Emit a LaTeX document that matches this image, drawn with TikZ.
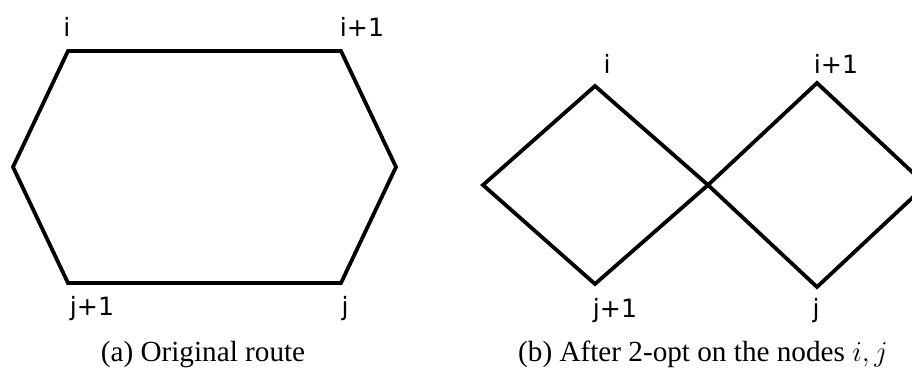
\documentclass[tikz,border=0pt]{standalone}
\usepackage{fontspec}
\setmainfont{Liberation Serif}
\newfontfamily\lblfont{DejaVu Sans}
\begin{document}
\begin{tikzpicture}[x=0.5pt,y=-0.5pt,
  route/.style={line width=1.9pt,line join=miter},
  lbl/.style={font=\lblfont\fontsize{12.6}{14}\selectfont,anchor=base,inner sep=0pt},
  captext/.style={font=\fontsize{14.6}{16}\selectfont,anchor=base,inner sep=0pt}]
\useasboundingbox (0,0) rectangle (912,370);
% (a)
\coordinate (ai) at (68,51);
\coordinate (ai1) at (341,51);
\coordinate (ar) at (396,167);
\coordinate (aj) at (341,283);
\coordinate (aj1) at (68,283);
\coordinate (al) at (13,167);
\draw[route] (ai) -- (ai1) -- (ar) -- (aj) -- (aj1) -- (al) -- cycle;
\node[lbl] (lai) at (67,36) {i};
\node[lbl] (lai1) at (362,36) {i+1};
\node[lbl] (laj1) at (92,315) {j+1};
\node[lbl] (laj) at (345,315) {j};
\node[captext] (capa) at (203,361) {(a) Original route};
% (b)
\coordinate (bi) at (595,86);
\coordinate (bl) at (483,185);
\coordinate (bj1) at (595,284);
\coordinate (bx) at (708,185);
\coordinate (bi1) at (817,83);
\coordinate (bj) at (817,287);
\coordinate (br) at (926,185);
\draw[route] (bi) -- (bx) -- (bj) -- (br) -- (bi1) -- (bx) -- (bj1) -- (bl) -- cycle;
\node[lbl] (lbi) at (607,73) {i};
\node[lbl] (lbi1) at (836,73) {i+1};
\node[lbl] (lbj1) at (615,317) {j+1};
\node[lbl] (lbj) at (816,317) {j};
\node[captext] (capb) at (703,361) {(b) After 2-opt on the nodes $i,j$};
\end{tikzpicture}
\end{document}
